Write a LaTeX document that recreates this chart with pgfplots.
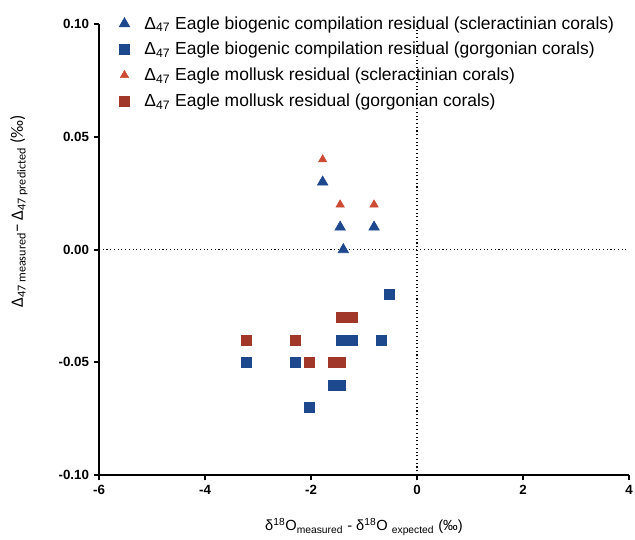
\documentclass[border=0pt]{standalone}
\usepackage{fontspec}
\setmainfont{Liberation Sans}
\newfontfamily\calibri{Carlito}
\usepackage{pgfplots}
\pgfplotsset{compat=1.18}

\definecolor{cblue}{RGB}{30,72,142}
\definecolor{ctri}{RGB}{205,75,50}
\definecolor{csq}{RGB}{160,55,40}

\begin{document}
\begin{tikzpicture}
\begin{axis}[
    scale only axis,
    width=397.5pt, height=338pt,
    xmin=-6, xmax=4, ymin=-0.1, ymax=0.1,
    axis x line=bottom, axis y line=left,
    axis line style={-, line width=1.5pt},
    tick align=outside, major tick length=4pt,
    tick style={line width=1.5pt, black},
    xtick={-6,-4,...,4}, ytick={-0.1,-0.05,0,0.05,0.1},
    yticklabel style={/pgf/number format/fixed, /pgf/number format/fixed zerofill, /pgf/number format/precision=2},
    /pgf/number format/assume math mode=true,
    ticklabel style={font=\fontsize{10}{12}\selectfont\bfseries},
    xlabel={δ\textsuperscript{18}O\textsubscript{measured} - δ\textsuperscript{18}O \textsubscript{expected} (‰)},
    ylabel={{\calibri Δ\textsubscript{47 measured}− Δ\textsubscript{47 predicted} (‰)}},
    xlabel style={font=\fontsize{11}{13}\selectfont, at={(axis description cs:0.5,0)}, yshift=-29pt},
    ylabel style={font=\fontsize{13}{15}\selectfont, at={(axis description cs:0,0.585)}, yshift=50pt},
    legend style={draw=none, fill=none, at={(0.03,1.03)}, anchor=north west,
        font=\fontsize{13.1}{14}\selectfont, row sep=4.3pt, legend cell align=left,
        /tikz/every odd column/.append style={column sep=9pt}},
    clip=false,
]
\addplot[only marks, mark=triangle*, mark size=4.6pt, cblue]
    coordinates {(-1.78,0.03) (-1.45,0.01) (-0.81,0.01) (-1.39,0.00)};
\addlegendentry{Δ\textsubscript{47} Eagle biogenic compilation residual (scleractinian corals)}
\addplot[only marks, mark=square*, mark size=3.75pt, cblue]
    coordinates {(-0.53,-0.02) (-1.42,-0.04) (-1.23,-0.04) (-0.68,-0.04)
                 (-3.23,-0.05) (-2.30,-0.05) (-1.58,-0.06) (-1.45,-0.06) (-2.04,-0.07)};
\addlegendentry{Δ\textsubscript{47} Eagle biogenic compilation residual (gorgonian corals)}
\addplot[only marks, mark=triangle*, mark size=3.6pt, ctri]
    coordinates {(-1.78,0.04) (-1.45,0.02) (-0.81,0.02)};
\addlegendentry{Δ\textsubscript{47} Eagle mollusk residual (scleractinian corals)}
\addplot[only marks, mark=square*, mark size=3.75pt, csq]
    coordinates {(-1.42,-0.03) (-1.23,-0.03) (-3.23,-0.04) (-2.30,-0.04)
                 (-2.04,-0.05) (-1.58,-0.05) (-1.45,-0.05)};
\addlegendentry{Δ\textsubscript{47} Eagle mollusk residual (gorgonian corals)}
\addplot[dotted, thick, black, forget plot] coordinates {(0,-0.1) (0,0.1)};
\addplot[dotted, thick, black, forget plot] coordinates {(-6,0) (4,0)};
\end{axis}
\pgfresetboundingbox
\useasboundingbox (-74.25pt,-48pt) rectangle (402pt,356.25pt);
\end{tikzpicture}
\end{document}
